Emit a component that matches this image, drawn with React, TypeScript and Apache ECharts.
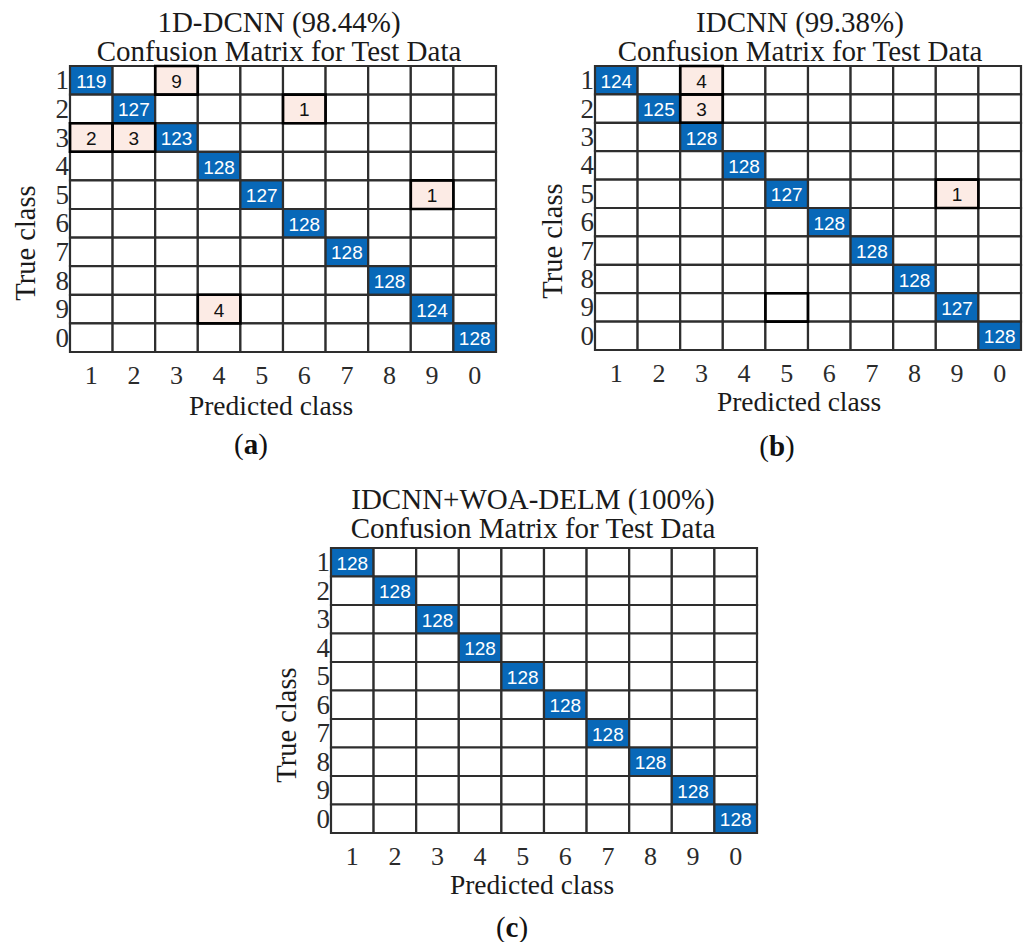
import React, { useEffect, useRef } from "react";
import * as echarts from "echarts";

const classes = ["1", "2", "3", "4", "5", "6", "7", "8", "9", "0"];

// Panel (a) 1D-DCNN
const diagA = [119, 127, 123, 128, 127, 128, 128, 128, 124, 128];
const offA = [
  [0, 2, 9],
  [1, 5, 1],
  [2, 0, 2],
  [2, 1, 3],
  [4, 8, 1],
  [8, 3, 4],
]; // [row, col, value]
const boxA = [
  [0, 2],
  [1, 5],
  [2, 0],
  [2, 1],
  [4, 8],
  [8, 3],
];

// Panel (b) IDCNN
const diagB = [124, 125, 128, 128, 127, 128, 128, 128, 127, 128];
const offB = [
  [0, 2, 4],
  [1, 2, 3],
  [4, 8, 1],
];
const boxB = [
  [0, 2],
  [1, 2],
  [4, 8],
  [8, 4],
];

// Panel (c) IDCNN+WOA-DELM
const diagC = [128, 128, 128, 128, 128, 128, 128, 128, 128, 128];
const offC: number[][] = [];
const boxC: number[][] = [];

const titlesA = ["1D-DCNN (98.44%)", "Confusion Matrix for Test Data"];
const titlesB = ["IDCNN (99.38%)", "Confusion Matrix for Test Data"];
const titlesC = ["IDCNN+WOA-DELM (100%)", "Confusion Matrix for Test Data"];

const BLUE = "#0868b8";
const PINK = "#fcebe5";
const GRIDC = "#2e2e2e";
const SERIF = '"Liberation Serif", "Times New Roman", serif';
const SANS = '"Liberation Sans", Arial, sans-serif';

function buildCells(diag: number[], off: number[][]) {
  const cells: number[][] = [];
  for (let r = 0; r < classes.length; r++) {
    for (let c = 0; c < classes.length; c++) {
      let v = 0;
      if (r === c) v = diag[r];
      const o = off.find((e) => e[0] === r && e[1] === c);
      if (o) v = o[2];
      cells.push([c, r, v]);
    }
  }
  return cells;
}

const renderCell = (params: any, api: any) => {
  const col = api.value(0);
  const row = api.value(1);
  const v = api.value(2);
  const c = api.coord([col, row]);
  const s = api.size([1, 1]);
  const diag = col === row;
  const fill = diag ? BLUE : v > 0 ? PINK : "#ffffff";
  const children: any[] = [
    {
      type: "rect",
      shape: { x: c[0] - s[0] / 2, y: c[1] - s[1] / 2, width: s[0], height: s[1] },
      style: { fill, stroke: GRIDC, lineWidth: 2.2 },
    },
  ];
  if (v > 0) {
    children.push({
      type: "text",
      style: {
        text: String(v),
        x: c[0],
        y: c[1] + 1,
        align: "center",
        verticalAlign: "middle",
        textAlign: "center",
        textVerticalAlign: "middle",
        fill: diag ? "#ffffff" : "#111111",
        font: `19px ${SANS}`,
      },
    });
  }
  return { type: "group", children };
};

const renderBox = (params: any, api: any) => {
  const c = api.coord([api.value(0), api.value(1)]);
  const s = api.size([1, 1]);
  return {
    type: "rect",
    shape: { x: c[0] - s[0] / 2, y: c[1] - s[1] / 2, width: s[0], height: s[1] },
    style: { fill: "none", stroke: "#000000", lineWidth: 2.6 },
  };
};

const grids = [
  { left: 70, top: 66, width: 426, height: 286 },
  { left: 595, top: 66, width: 426, height: 284 },
  { left: 331, top: 548, width: 426, height: 285 },
];

const panels = [
  { diag: diagA, off: offA, box: boxA },
  { diag: diagB, off: offB, box: boxB },
  { diag: diagC, off: offC, box: boxC },
];

function textEl(text: string, x: number, y: number, size: number, rotation = 0): any {
  return {
    type: "text",
    x,
    y,
    rotation,
    style: {
      text,
      align: "center",
      verticalAlign: "middle",
      textAlign: "center",
      textVerticalAlign: "middle",
      font: `${size}px ${SERIF}`,
      fill: "#1a1a1a",
    },
  };
}

function labelEl(letter: string, x: number, y: number): any {
  return {
    type: "text",
    x,
    y,
    style: {
      text: `{p|(}{b|${letter}}{p|)}`,
      align: "center",
      verticalAlign: "middle",
      textAlign: "center",
      textVerticalAlign: "middle",
      rich: {
        p: { fontFamily: SERIF, fontSize: 29, fill: "#111", color: "#111" },
        b: { fontFamily: SERIF, fontSize: 29, fontWeight: "bold", fill: "#111", color: "#111" },
      },
    },
  };
}

export default function App() {
  const ref = useRef<HTMLDivElement>(null);
  useEffect(() => {
    if (!ref.current) return;
    const chart = echarts.init(ref.current, undefined, { renderer: "svg" });
    const series: any[] = [];
    panels.forEach((p, i) => {
      series.push({
        type: "custom",
        xAxisIndex: i,
        yAxisIndex: i,
        renderItem: renderCell,
        data: buildCells(p.diag, p.off),
        silent: true,
      });
      series.push({
        type: "custom",
        xAxisIndex: i,
        yAxisIndex: i,
        renderItem: renderBox,
        data: p.box.map((b) => [b[1], b[0]]),
        silent: true,
        z: 5,
      });
    });
    chart.setOption({
      animation: false,
      backgroundColor: "#ffffff",
      grid: grids,
      xAxis: grids.map((g, i) => ({
        type: "category",
        gridIndex: i,
        data: classes,
        axisLine: { show: false },
        axisTick: { show: false },
        splitLine: { show: false },
        axisLabel: {
          fontFamily: SERIF,
          fontSize: 26,
          lineHeight: 22,
          color: "#2b2b2b",
          margin: 12,
          interval: 0,
        },
      })),
      yAxis: grids.map((g, i) => ({
        type: "category",
        gridIndex: i,
        data: classes,
        inverse: true,
        axisLine: { show: false },
        axisTick: { show: false },
        splitLine: { show: false },
        axisLabel: {
          fontFamily: SERIF,
          fontSize: 27,
          lineHeight: 24,
          color: "#2b2b2b",
          margin: 1,
          interval: 0,
        },
      })),
      series,
      graphic: [
        textEl(titlesA[0], 279, 22, 29),
        textEl(titlesA[1], 279, 51, 29),
        textEl(titlesB[0], 800, 22, 29),
        textEl(titlesB[1], 800, 51, 29),
        textEl(titlesC[0], 533, 499, 29),
        textEl(titlesC[1], 533, 528, 29),
        textEl("True class", 25, 243, 28.5, Math.PI / 2),
        textEl("True class", 552, 241, 28.5, Math.PI / 2),
        textEl("True class", 286, 725, 28.5, Math.PI / 2),
        textEl("Predicted class", 271, 405, 27.5),
        textEl("Predicted class", 799, 401, 27.5),
        textEl("Predicted class", 532, 884, 27.5),
        labelEl("a", 251, 444),
        labelEl("b", 777, 446),
        labelEl("c", 512, 927),
      ],
    });
    return () => chart.dispose();
  }, []);
  return (
    <div
      ref={ref}
      style={{ position: "absolute", left: 0, top: 0, width: 1030, height: 942, background: "#fff" }}
    />
  );
}
